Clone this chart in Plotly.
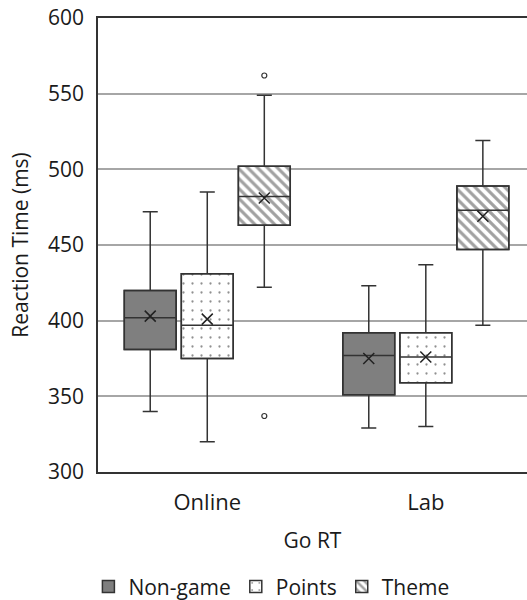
import plotly.graph_objects as go

categories = ["Online", "Lab"]
series = ["Non-game", "Points", "Theme"]

q1_vals = {"Non-game": [381, 351], "Points": [375, 359], "Theme": [463, 447]}
median_vals = {"Non-game": [402, 377], "Points": [397, 376], "Theme": [482, 473]}
q3_vals = {"Non-game": [420, 392], "Points": [431, 392], "Theme": [502, 489]}
lower_vals = {"Non-game": [340, 329], "Points": [320, 330], "Theme": [422, 397]}
upper_vals = {"Non-game": [472, 423], "Points": [485, 437], "Theme": [549, 519]}
mean_vals = {"Non-game": [403, 375], "Points": [401, 376], "Theme": [481, 469]}

outlier_series = "Theme"
outlier_cats = ["Online", "Online"]
outlier_vals = [562, 337]

FONT = "Open Sans"
LINE = "#333333"
GAP = 0.217
GROUPGAP = 0.09

styles = {
    "Non-game": dict(color="#7f7f7f", pattern=dict(shape="")),
    "Points": dict(color="white", pattern=dict(shape=".", fgcolor="#222222", bgcolor="white",
                                               size=9, solidity=0.05, fillmode="overlay")),
    "Theme": dict(color="white", pattern=dict(shape="\\", fgcolor="#444444", bgcolor="white",
                                              size=7, solidity=0.45, fillmode="overlay")),
}

fig = go.Figure()

for s in series:
    heights = [b - a for a, b in zip(q1_vals[s], q3_vals[s])]
    fig.add_trace(go.Bar(
        x=categories, y=heights, base=q1_vals[s], name=s, offsetgroup=s,
        marker=dict(color=styles[s]["color"], pattern=styles[s]["pattern"],
                    line=dict(color=LINE, width=1.5)),
        hoverinfo="skip",
    ))

for s in series:
    fig.add_trace(go.Box(
        x=categories, q1=q1_vals[s], median=median_vals[s], q3=q3_vals[s],
        lowerfence=lower_vals[s], upperfence=upper_vals[s], name=s, offsetgroup=s,
        fillcolor="rgba(0,0,0,0)", line=dict(color=LINE, width=1.5),
        whiskerwidth=0.29, boxpoints=False, showlegend=False,
    ))

for s in series:
    fig.add_trace(go.Scatter(
        x=categories, y=mean_vals[s], mode="markers", offsetgroup=s, showlegend=False,
        marker=dict(symbol="x-thin", size=11, line=dict(width=1.5, color="#222222")),
    ))

fig.add_trace(go.Scatter(
    x=outlier_cats, y=outlier_vals, mode="markers", offsetgroup=outlier_series,
    showlegend=False,
    marker=dict(symbol="circle-open", size=5, line=dict(width=1.2, color="#333333"),
                color="#333333"),
))

fig.update_layout(
    width=527, height=600,
    margin=dict(l=98, r=0, t=18, b=128),
    paper_bgcolor="white", plot_bgcolor="white",
    barmode="group", bargap=GAP, bargroupgap=GROUPGAP,
    boxmode="group", boxgap=GAP, boxgroupgap=GROUPGAP,
    scattermode="group", scattergap=GAP,
    font=dict(family=FONT, size=21, color="#1a1a1a"),
    showlegend=True,
    legend=dict(orientation="h", xref="container", yref="container",
                x=0.515, xanchor="center", y=0.022, yanchor="middle",
                font=dict(size=21), itemwidth=30, tracegroupgap=0),
    xaxis=dict(
        type="category", range=[-0.5, 1.463],
        showline=True, linecolor=LINE, linewidth=1.5, mirror=True,
        showgrid=False, ticks="", ticklabelstandoff=10,
        tickfont=dict(size=22),
        title=dict(text="Go RT", standoff=18, font=dict(size=21)),
    ),
    yaxis=dict(
        range=[300, 600], dtick=50, tick0=300,
        showline=True, linecolor=LINE, linewidth=1.5,
        showgrid=True, gridcolor="#a6a6a6", gridwidth=1.5, zeroline=False,
        ticks="", ticklabelstandoff=8,
        title=dict(text="Reaction Time (ms)", standoff=14, font=dict(size=21)),
    ),
)

fig.write_html("out.html")
